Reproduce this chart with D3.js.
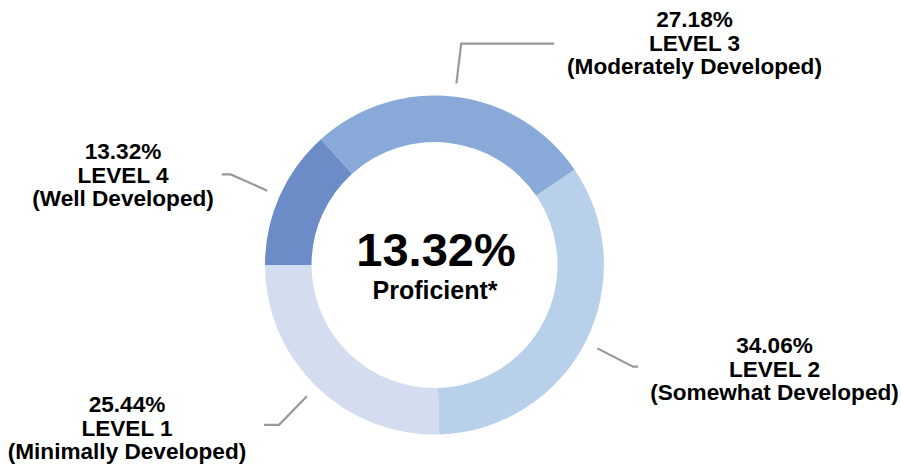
<!DOCTYPE html>
<html>
<head>
<meta charset="utf-8">
<script src="https://cdn.jsdelivr.net/npm/d3@7"></script>
<style>
  html, body { margin: 0; padding: 0; background: #fff; }
  svg { display: block; }
  text { font-family: "Liberation Sans", Arial, Helvetica, sans-serif; font-weight: bold; fill: #000; }
</style>
</head>
<body>
<svg id="chart" width="901" height="468"></svg>
<script>
// ---- data ----
const levels = ["LEVEL 4", "LEVEL 3", "LEVEL 2", "LEVEL 1"];
const descriptors = ["(Well Developed)", "(Moderately Developed)", "(Somewhat Developed)", "(Minimally Developed)"];
const percents = [13.32, 27.18, 34.06, 25.44];
const centerValue = "13.32%";
const centerLabel = "Proficient*";

// ---- styling / layout ----
const colors = ["#6b8cc7", "#89a9d8", "#b9d0eb", "#d4ddf0"];
const cx = 434.5, cy = 265, outerR = 169.5, innerR = 123;
// label anchor (text center x, first baseline y), elbow tail length
const labelLayout = [
  { x: 123,   y: 159, tail: -9 },
  { x: 694.5, y: 27,  tail: 93 },
  { x: 774.5, y: 353, tail: 5 },
  { x: 127,   y: 412, tail: -15 }
];
const lineGap = 23.5;

const svg = d3.select("#chart");
const g = svg.append("g").attr("transform", `translate(${cx},${cy})`);

const data = levels.map((l, i) => ({ level: l, desc: descriptors[i], value: percents[i], i }));

const pie = d3.pie().value(d => d.value).sort(null)
  .startAngle(-Math.PI / 2).endAngle(3 * Math.PI / 2);
const arc = d3.arc().innerRadius(innerR).outerRadius(outerR);
const arcs = pie(data);

g.selectAll("path.slice").data(arcs).join("path")
  .attr("class", "slice")
  .attr("d", arc)
  .attr("fill", d => colors[d.data.i]);

// leader lines
const r1 = 183, r2 = 223;
const pt = (a, r) => [Math.sin(a) * r, -Math.cos(a) * r];
g.selectAll("polyline.leader").data(arcs).join("polyline")
  .attr("class", "leader")
  .attr("fill", "none")
  .attr("stroke", "#999999")
  .attr("stroke-width", 2.2)
  .attr("points", d => {
    const a = (d.startAngle + d.endAngle) / 2;
    const p1 = pt(a, r1), p2 = pt(a, r2);
    const p3 = [p2[0] + labelLayout[d.data.i].tail, p2[1]];
    return [p1, p2, p3].map(p => p.join(",")).join(" ");
  });

// outer labels
const fmt = d3.format(".2f");
arcs.forEach(d => {
  const L = labelLayout[d.data.i];
  const t = svg.append("text")
    .attr("text-anchor", "middle")
    .attr("font-size", 22.6);
  const lines = [fmt(d.data.value) + "%", d.data.level, d.data.desc];
  lines.forEach((s, k) => {
    t.append("tspan").attr("x", L.x).attr("y", L.y + k * lineGap).text(s);
  });
});

// center text
svg.append("text").attr("x", cx + 1.5).attr("y", 266)
  .attr("text-anchor", "middle").attr("font-size", 47).text(centerValue);
svg.append("text").attr("x", cx + 0.5).attr("y", 299)
  .attr("text-anchor", "middle").attr("font-size", 25).text(centerLabel);
</script>
</body>
</html>
